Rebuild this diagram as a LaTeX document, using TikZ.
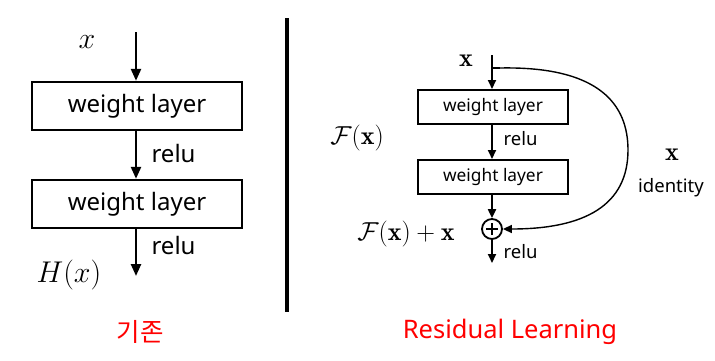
\RequirePackage{fix-cm}
\documentclass[tikz,border=0pt]{standalone}
\usepackage{fontspec}
\setsansfont{Noto Sans}
\newfontfamily\krfont{Noto Sans CJK KR}
\newfontfamily\labfont{Noto Sans}
\usetikzlibrary{arrows.meta}
\begin{document}
\begin{tikzpicture}[x=1pt,y=-1pt,
  lbox/.style={draw,line width=2.4pt,minimum width=210pt,minimum height=48pt,inner sep=0pt,font=\sffamily\fontsize{24}{24}\selectfont},
  rbox/.style={draw,line width=2pt,minimum width=150pt,minimum height=34pt,inner sep=0pt,font=\sffamily\fontsize{17.3}{17.3}\selectfont},
  larr/.style={line width=2.4pt,-{Triangle[length=12pt,width=10pt]}},
  rarr/.style={line width=2pt,-{Triangle[length=9pt,width=8pt]}},
  lrelu/.style={font=\sffamily\fontsize{24}{24}\selectfont,anchor=west},
  rrelu/.style={font=\sffamily\fontsize{18.5}{18.5}\selectfont,anchor=west},
  lmath/.style={font=\fontsize{30}{30}\selectfont},
  rmath/.style={font=\fontsize{26}{26}\selectfont},
  captext/.style={text=red,font=\labfont\fontsize{25.5}{25.5}\selectfont}]
\useasboundingbox (0,0) rectangle (715,360);
% left diagram
\node[lmath] (lx) at (87,42) {$x$};
\coordinate (ltop) at (136,32);
\node[lbox] (b1) at (137,106) {weight layer};
\node[lbox] (b2) at (137,204) {weight layer};
\coordinate (lend) at (136,276);
\draw[larr] (ltop) -- (ltop|-b1.north);
\draw[larr] (b1.south-|ltop) -- (b2.north-|ltop);
\draw[larr] (b2.south-|ltop) -- (lend);
\node[lrelu] (lr1) at (148,153) {relu};
\node[lrelu] (lr2) at (148,245) {relu};
\node[lmath] (hx) at (69,275) {$H(x)$};
% separator
\coordinate (s1) at (287,18);
\coordinate (s2) at (287,312);
\draw[line width=4pt] (s1) -- (s2);
% right diagram
\node[rmath] (rx) at (466,61) {$\mathbf{x}$};
\coordinate (rtop) at (492,55);
\coordinate (tick) at (492,68);
\coordinate (cstart) at (500,68);
\node[rbox] (b3) at (493,107) {weight layer};
\node[rbox] (b4) at (493,177) {weight layer};
\node[draw,circle,line width=1.8pt,minimum size=20pt,inner sep=0pt] (plus) at (492,229) {};
\draw[line width=2.8pt] ([xshift=-6pt]plus.center) -- ([xshift=6pt]plus.center)
  ([yshift=-6pt]plus.center) -- ([yshift=6pt]plus.center);
\coordinate (rend) at (492,263);
\draw[rarr] (rtop) -- (rtop|-b3.north);
\draw[line width=1.6pt] (tick) -- (cstart);
\draw[rarr] (b3.south-|rtop) -- (b4.north-|rtop);
\draw[rarr] (b4.south-|rtop) -- (plus.north);
\draw[rarr] (plus.south) -- (rend);
\draw[line width=1.4pt,-{Triangle[length=9pt,width=8pt]}] (cstart)
  .. controls (600,66) and (628,105) .. (628,150)
  .. controls (628,205) and (585,229) .. (plus.east);
\node[rrelu] (rr1) at (500,139) {relu};
\node[rrelu] (rr2) at (500,252) {relu};
\node[rmath] (fx) at (357,138) {$\mathcal{F}(\mathbf{x})$};
\node[rmath] (fxx) at (406,234) {$\mathcal{F}(\mathbf{x})+\mathbf{x}$};
\node[rmath] (ix) at (672,155) {$\mathbf{x}$};
\node[rrelu,anchor=center] (id) at (671,188) {identity};
% captions
\node[captext] (c1) at (140,332) {\krfont 기존};
\node[captext] (c2) at (510,332) {Residual Learning};
\end{tikzpicture}
\end{document}
